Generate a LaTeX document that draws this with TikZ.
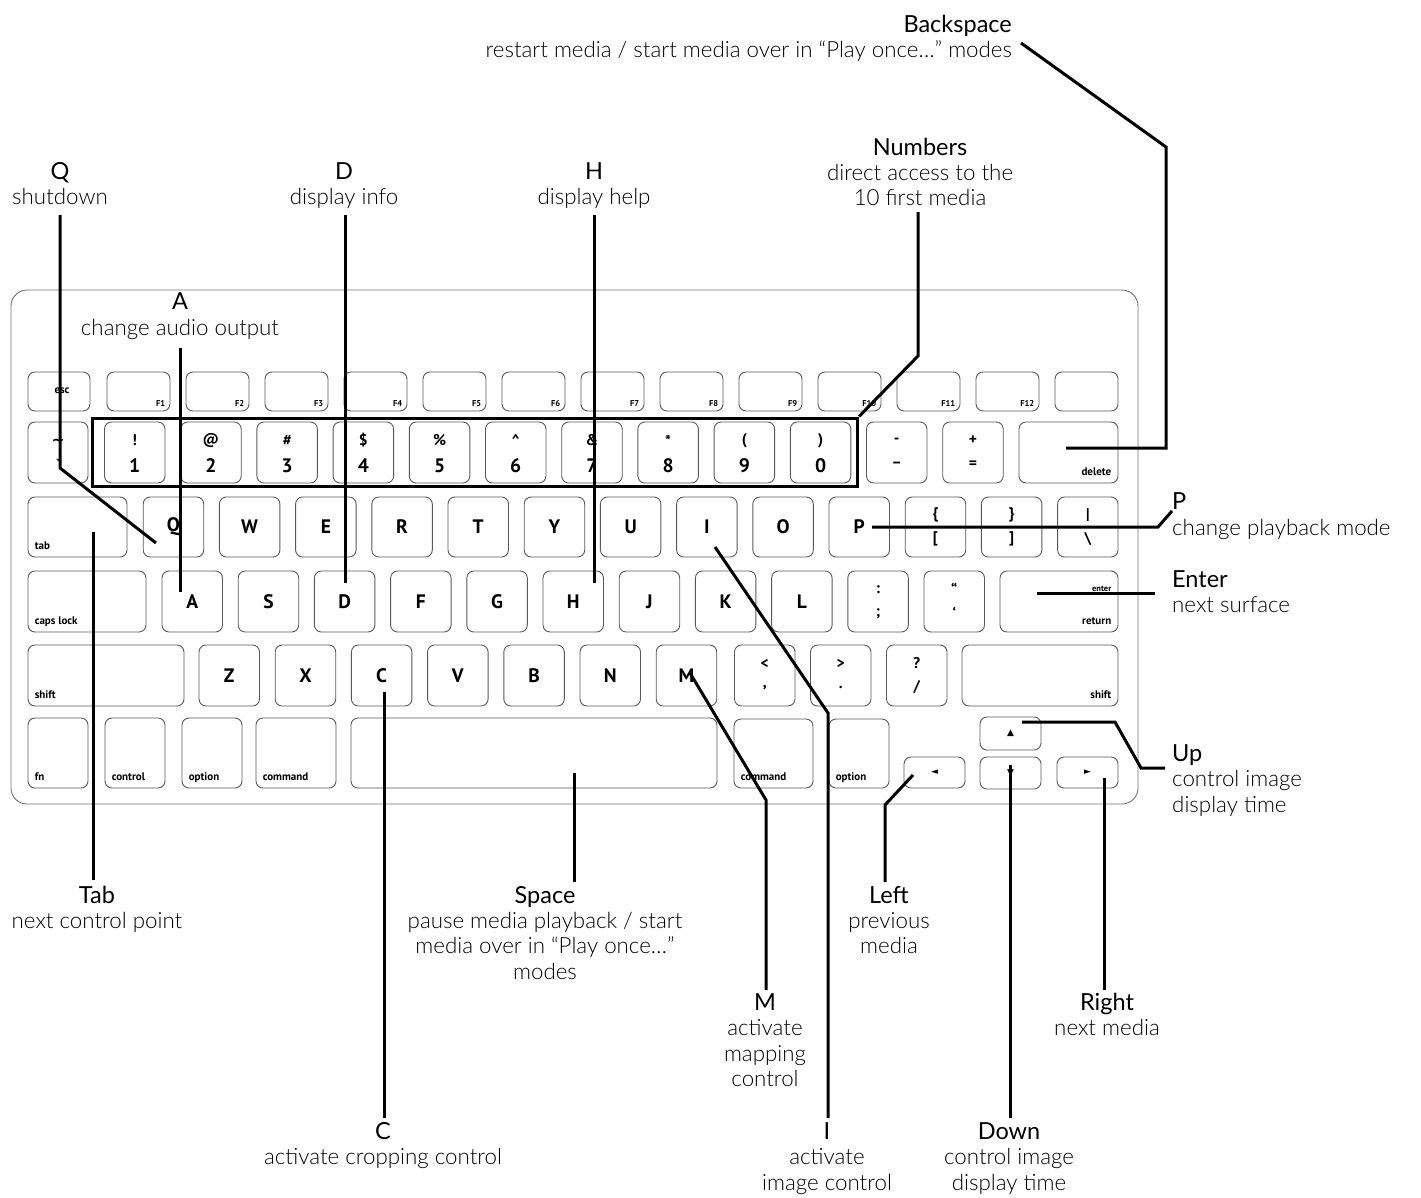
\documentclass[tikz,border=0pt]{standalone}
\usepackage{fontspec}
\setmainfont{Lato}
\newfontfamily\lightfont{Lato Light}
\newfontfamily\keyfont{PT Sans}
\newfontfamily\symfont{DejaVu Sans}
\tikzset{
  keybox/.style={draw=black!65, line width=0.9pt, rounded corners=7pt, inner sep=0pt},
  kbdframe/.style={draw=black!55, line width=0.9pt, rounded corners=16pt},
  conn/.style={draw=black, line width=3pt, line join=miter},
  numbox/.style={draw=black, line width=3pt, inner sep=0pt},
  klet/.style={font=\keyfont\bfseries\fontsize{19.5}{19.5}\selectfont, inner sep=0pt},
  ksym/.style={font=\keyfont\bfseries\fontsize{15.5}{15.5}\selectfont, inner sep=0pt},
  ksmall/.style={font=\keyfont\bfseries\fontsize{11}{11}\selectfont, inner sep=0pt},
  ktiny/.style={font=\keyfont\bfseries\fontsize{8.5}{8.5}\selectfont, inner sep=0pt},
  karrow/.style={font=\symfont\fontsize{9}{9}\selectfont, inner sep=0pt},
  ttl/.style={font=\fontsize{23.5}{24}\selectfont, anchor=base, inner sep=0pt},
  dsc/.style={font=\lightfont\fontsize{22.3}{24}\selectfont, anchor=base, inner sep=0pt},
}
\newcommand\kk[5]{\node[keybox, minimum width={(#4)-(#2)}, minimum height={(#5)-(#3)}] (#1) at ({((#2)+(#4))/2},{((#3)+(#5))/2}) {};}
\newcommand\BL[2]{\node[ksmall, anchor=base west] at ([xshift=7pt,yshift=8pt]#1.south west) {#2};}
\newcommand\BR[2]{\node[ksmall, anchor=base east] at ([xshift=-7pt,yshift=8pt]#1.south east) {#2};}
\newcommand\TwoSym[3]{\node[ksym] at ([yshift=12pt]#1.center) {#2};\node[ksym] at ([yshift=-12pt]#1.center) {#3};}
\begin{document}
\begin{tikzpicture}[x=1pt,y=-1pt]
\useasboundingbox (0,0) rectangle (1421,1197);
% keyboard frame
\draw[kbdframe] (11,290) rectangle (1138,804);
% row 0
\kk{esc}{28}{372}{90}{411}
\node[ksmall] at (62,391) {esc};
\foreach \i in {1,...,12}{
  \pgfmathsetmacro\xa{107+79*(\i-1)}
  \kk{f\i}{\xa}{372}{\xa+63}{411}
  \node[ktiny, anchor=base east] at ([xshift=-5pt,yshift=5pt]f\i.south east) {F\i};
}
\kk{fblank}{1055}{372}{1118}{411}
% row 1
\kk{tilde}{28}{422}{88}{483}
\node[ksym] at ([yshift=10pt]tilde.center) {\symfont\char"007E};
\node[ksym] at ([yshift=-12pt]tilde.center) {`};
\foreach \d/\s [count=\i from 0] in {1/!,2/@,3/\#,4/\$,5/\%,6/\textasciicircum,7/\&,8/*,9/(,0/)}{
  \pgfmathsetmacro\xa{104.5+76.2*\i}
  \kk{n\d}{\xa}{422}{\xa+60.5}{483}
  \node[ksym] at ([yshift=12pt]n\d.center) {\s};
  \node[klet] at ([yshift=-13pt]n\d.center) {\d};
}
\kk{minus}{866.5}{422}{927}{483}
\TwoSym{minus}{-}{–}
\kk{plus}{942.7}{422}{1003.2}{483}
\TwoSym{plus}{+}{=}
\kk{delete}{1019}{422}{1118}{483}
\BR{delete}{delete}
\node[numbox, minimum width=765, minimum height=68] (numbox) at (475,452) {};
% row 2
\kk{tab}{28}{497}{127}{557}
\BL{tab}{tab}
\foreach \l [count=\i from 0] in {Q,W,E,R,T,Y,U,I,O,P}{
  \pgfmathsetmacro\xa{143.2+76.2*\i}
  \kk{k\l}{\xa}{497}{\xa+60.5}{557}
  \node[klet] at (k\l.center) {\l};
}
\kk{lbrace}{905.2}{497}{965.7}{557}
\TwoSym{lbrace}{\{}{[}
\kk{rbrace}{981.4}{497}{1041.9}{557}
\TwoSym{rbrace}{\}}{]}
\kk{bslash}{1057.6}{497}{1118}{557}
\TwoSym{bslash}{|}{\textbackslash}
% row 3
\kk{caps}{28}{571}{146}{632}
\BL{caps}{caps lock}
\foreach \l [count=\i from 0] in {A,S,D,F,G,H,J,K,L}{
  \pgfmathsetmacro\xa{162+76.2*\i}
  \kk{k\l}{\xa}{571}{\xa+60.5}{632}
  \node[klet] at (k\l.center) {\l};
}
\kk{semi}{847.8}{571}{908.3}{632}
\TwoSym{semi}{:}{;}
\kk{quote}{924}{571}{984.5}{632}
\TwoSym{quote}{“}{‘}
\kk{return}{1000}{571}{1118}{632}
\BR{return}{return}
\node[ktiny, anchor=base east] at ([xshift=-7pt,yshift=-21pt]return.north east) {enter};
% row 4
\kk{lshift}{28}{645}{184}{706}
\BL{lshift}{shift}
\foreach \l [count=\i from 0] in {Z,X,C,V,B,N,M}{
  \pgfmathsetmacro\xa{199+76.2*\i}
  \kk{k\l}{\xa}{645}{\xa+60.5}{706}
  \node[klet] at (k\l.center) {\l};
}
\kk{comma}{734.5}{645}{795}{706}
\TwoSym{comma}{<}{,}
\kk{period}{810.5}{645}{871}{706}
\TwoSym{period}{>}{.}
\kk{slash}{886.5}{645}{947}{706}
\TwoSym{slash}{?}{/}
\kk{rshift}{962}{645}{1118}{706}
\BR{rshift}{shift}
% row 5
\kk{fn}{28}{718}{88}{788}
\BL{fn}{fn}
\kk{lctrl}{105}{718}{165}{788}
\BL{lctrl}{control}
\kk{lopt}{182}{718}{242}{788}
\BL{lopt}{option}
\kk{lcmd}{256}{718}{336}{788}
\BL{lcmd}{command}
\kk{space}{351}{718}{717}{788}
\kk{rcmd}{734}{719}{813}{788}
\BL{rcmd}{command}
\kk{ropt}{829}{719}{889}{788}
\BL{ropt}{option}
\kk{left}{904}{757}{965}{788}
\node[karrow] at (left.center) {◄};
\kk{up}{980}{717}{1041}{750}
\node[karrow] at (up.center) {▲};
\kk{down}{980}{757}{1041}{789}
\node[karrow] at (down.center) {▼};
\kk{right}{1057}{757}{1118}{788}
\node[karrow] at (right.center) {►};
% ---------- labels ----------
\node[ttl, anchor=base east] (tBack) at (1012,32) {Backspace};
\node[dsc, anchor=base east] (dBack) at (1012,57) {restart media / start media over in “Play once…” modes};
\node[ttl] (tNum) at (920,155) {Numbers};
\node[dsc] at (920,180) {direct access to the};
\node[dsc] at (920,205) {10 first media};
\node[ttl] (tQ) at (60,179) {Q};
\node[dsc] at (60,204) {shutdown};
\node[ttl] (tD) at (344,179) {D};
\node[dsc] at (344,204) {display info};
\node[ttl] (tH) at (594,179) {H};
\node[dsc] at (594,204) {display help};
\node[ttl] (tA) at (180,309) {A};
\node[dsc] at (180,335) {change audio output};
\node[ttl, anchor=base west] (tP) at (1172,509) {P};
\node[dsc, anchor=base west] at (1172,535) {change playback mode};
\node[ttl, anchor=base west] (tEnter) at (1172,587) {Enter};
\node[dsc, anchor=base west] at (1172,612) {next surface};
\node[ttl, anchor=base west] (tUp) at (1172,761) {Up};
\node[dsc, anchor=base west] at (1172,786) {control image};
\node[dsc, anchor=base west] at (1172,812) {display time};
\node[ttl] (tTab) at (97,903) {Tab};
\node[dsc] at (97,928) {next control point};
\node[ttl] (tSpace) at (545,903) {Space};
\node[dsc] at (545,928) {pause media playback / start};
\node[dsc] at (545,953) {media over in “Play once…”};
\node[dsc] at (545,979) {modes};
\node[ttl] (tLeft) at (889,903) {Left};
\node[dsc] at (889,928) {previous};
\node[dsc] at (889,953) {media};
\node[ttl] (tM) at (765,1010) {M};
\node[dsc] at (765,1035) {activate};
\node[dsc] at (765,1061) {mapping};
\node[dsc] at (765,1086) {control};
\node[ttl] (tRight) at (1107,1010) {Right};
\node[dsc] at (1107,1035) {next media};
\node[ttl] (tC) at (383,1139) {C};
\node[dsc] at (383,1164) {activate cropping control};
\node[ttl] (tI) at (827,1139) {I};
\node[dsc] at (827,1164) {activate};
\node[dsc] at (827,1190) {image control};
\node[ttl] (tDown) at (1009,1139) {Down};
\node[dsc] at (1009,1164) {control image};
\node[dsc] at (1009,1190) {display time};
% ---------- connector points ----------
\coordinate (bk0) at (1021,43);
\coordinate (bk1) at (1166,147);
\coordinate (bk2) at (1166,448);
\coordinate (bk3) at (1066,448);
\coordinate (nu0) at (918,212);
\coordinate (nu1) at (918,356);
\coordinate (q0) at (60,215);
\coordinate (q1) at (60,468);
\coordinate (q2) at (156,543);
\coordinate (a0) at (180,348);
\coordinate (a1) at (180,592);
\coordinate (d0) at (345,215);
\coordinate (d1) at (345,583);
\coordinate (h0) at (594,215);
\coordinate (h1) at (594,583);
\coordinate (tb0) at (93,532);
\coordinate (tb1) at (93,880);
\coordinate (c0) at (384,692);
\coordinate (c1) at (384,1118);
\coordinate (sp0) at (574,773);
\coordinate (sp1) at (574,882);
\coordinate (m0) at (690,673);
\coordinate (m1) at (766,800);
\coordinate (m2) at (766,990);
\coordinate (i0) at (715,547);
\coordinate (i1) at (828,713);
\coordinate (i2) at (828,1118);
\coordinate (p0) at (872,527);
\coordinate (p1) at (1158,527);
\coordinate (p2) at (1172,511);
\coordinate (e0) at (1037,593);
\coordinate (e1) at (1155,593);
\coordinate (u0) at (1022,722);
\coordinate (u1) at (1115,722);
\coordinate (u2) at (1141,768);
\coordinate (u3) at (1165,768);
\coordinate (l0) at (913,775);
\coordinate (l1) at (885,805);
\coordinate (l2) at (885,882);
\coordinate (dn0) at (1010,765);
\coordinate (dn1) at (1010,1118);
\coordinate (r0) at (1104,778);
\coordinate (r1) at (1104,990);
% ---------- connectors ----------
\draw[conn] (bk0) -- (bk1) -- (bk2) -- (bk3);
\draw[conn] (nu0) -- (nu1) -- (numbox.north east);
\draw[conn] (q0) -- (q1) -- (q2);
\draw[conn] (a0) -- (a1);
\draw[conn] (d0) -- (d1);
\draw[conn] (h0) -- (h1);
\draw[conn] (tb0) -- (tb1);
\draw[conn] (c0) -- (c1);
\draw[conn] (sp0) -- (sp1);
\draw[conn] (m0) -- (m1) -- (m2);
\draw[conn] (i0) -- (i1) -- (i2);
\draw[conn] (p0) -- (p1) -- (p2);
\draw[conn] (e0) -- (e1);
\draw[conn] (u0) -- (u1) -- (u2) -- (u3);
\draw[conn] (l0) -- (l1) -- (l2);
\draw[conn] (dn0) -- (dn1);
\draw[conn] (r0) -- (r1);
\end{tikzpicture}
\end{document}
